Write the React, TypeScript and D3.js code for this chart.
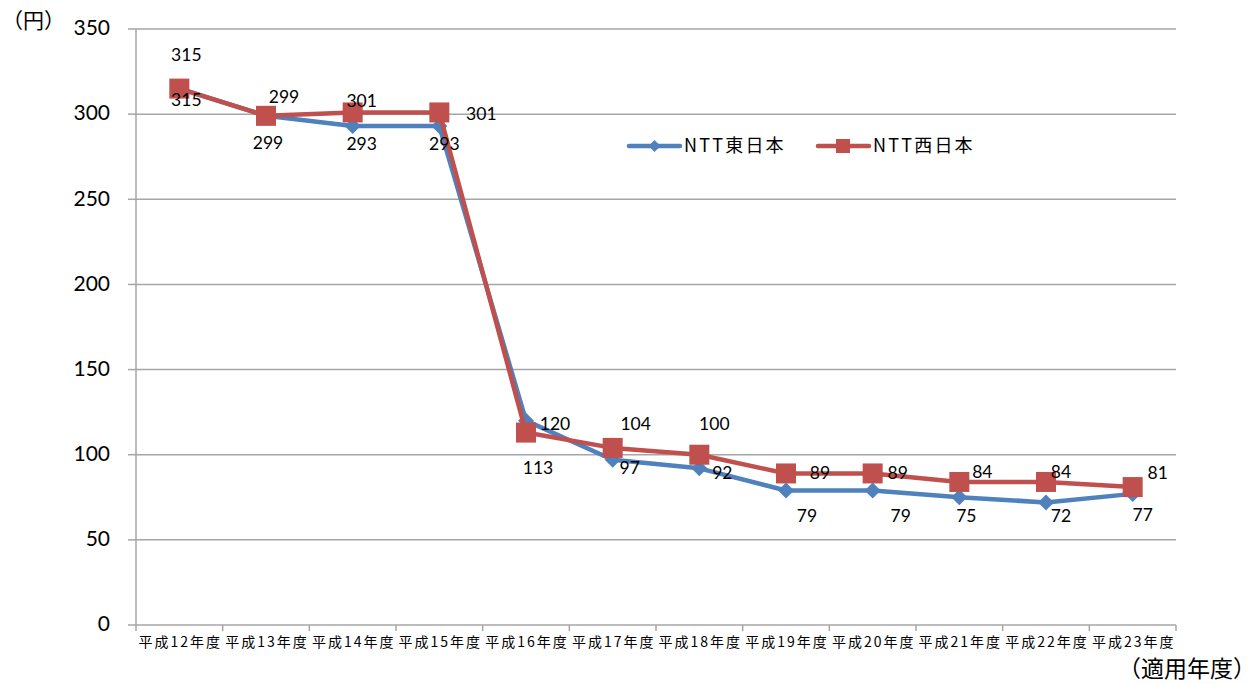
import React from 'react';
import * as d3 from 'd3';

const categories = [
  '平成12年度', '平成13年度', '平成14年度', '平成15年度', '平成16年度', '平成17年度',
  '平成18年度', '平成19年度', '平成20年度', '平成21年度', '平成22年度', '平成23年度',
];
const eastValues = [315, 299, 293, 293, 120, 97, 92, 79, 79, 75, 72, 77];
const westValues = [315, 299, 301, 301, 113, 104, 100, 89, 89, 84, 84, 81];
const yTicks = [0, 50, 100, 150, 200, 250, 300, 350];

// label offsets from each marker (Excel placed them by hand)
const eastLabelOffsets: [number, number][] = [
  [7, 11], [2, 27], [9, 17], [5, 17], [29, 3], [17, 8],
  [23, 4], [21, 25], [28, 25], [7, 18], [15, 13], [10, 21],
];
const westLabelOffsets: [number, number][] = [
  [7, -34], [18, -19], [9, -12], [42, 1], [12, 35], [23, -24],
  [15, -31], [34, -1], [25, -1], [23, -10], [15, -10], [25, -15],
];

const BLUE = '#4F81BD';
const RED = '#C0504D';
const GRID = '#A6A6A6';
const NUM_FONT = 'Lato, "Liberation Sans", sans-serif';
const JP_FONT = '"Noto Sans CJK JP", "Noto Sans", sans-serif';

const App: React.FC = () => {
  const width = 1259;
  const height = 684;
  const left = 136;
  const right = 1176;
  const top = 29;
  const bottom = 625;

  const x = d3.scaleBand<string>().domain(categories).range([left, right]).padding(0);
  const y = d3.scaleLinear().domain([0, 350]).range([bottom, top]);
  const cx = (i: number) => (x(categories[i]) as number) + x.bandwidth() / 2;

  const line = d3.line<number>()
    .x((_, i) => cx(i))
    .y(d => y(d));

  const diamond = (px: number, py: number, r: number) =>
    `M${px},${py - r}L${px + r},${py}L${px},${py + r}L${px - r},${py}Z`;

  const boundaries = d3.range(categories.length + 1).map(i => left + i * x.bandwidth());
  const labelShift = 2;

  return (
    <svg width={width} height={height} style={{ position: 'absolute', left: 0, top: 0, background: '#fff' }}>
      {/* gridlines */}
      {yTicks.map(t => (
        <line key={'g' + t} x1={left} x2={right} y1={y(t)} y2={y(t)} stroke={GRID} strokeWidth={1.5} />
      ))}
      {/* y axis */}
      <line x1={left} x2={left} y1={top} y2={bottom} stroke={GRID} strokeWidth={1.5} />
      {yTicks.map(t => (
        <g key={'yt' + t}>
          <line x1={left - 8} x2={left} y1={y(t)} y2={y(t)} stroke={GRID} strokeWidth={1.5} />
          <text x={110} y={y(t) + 1} textAnchor="end" dominantBaseline="middle"
            fontFamily={NUM_FONT} fontSize={21} fill="#000">{t}</text>
        </g>
      ))}
      {/* x axis ticks */}
      {boundaries.map((b, i) => (
        <line key={'xt' + i} x1={b} x2={b} y1={bottom} y2={bottom + 6} stroke={GRID} strokeWidth={1.5} />
      ))}
      {categories.map(c => (
        <text key={c} x={(x(c) as number) + x.bandwidth() / 2 + 1} y={643} textAnchor="middle"
          dominantBaseline="middle" fontFamily={JP_FONT} fontSize={14} letterSpacing={2} fill="#000">{c}</text>
      ))}

      <text x={2} y={22} fontFamily={JP_FONT} fontSize={21} dominantBaseline="middle" fill="#000">（円）</text>
      <text x={1256} y={671} textAnchor="end" fontFamily={JP_FONT} fontSize={23} dominantBaseline="middle" fill="#000">（適用年度）</text>

      {/* east series */}
      <path d={line(eastValues) as string} fill="none" stroke={BLUE} strokeWidth={4.5} strokeLinejoin="round" />
      {eastValues.map((v, i) => (
        <path key={'ed' + i} d={diamond(cx(i), y(v), 8)} fill={BLUE} />
      ))}
      {/* west series */}
      <path d={line(westValues) as string} fill="none" stroke={RED} strokeWidth={4.5} strokeLinejoin="round" />
      {westValues.map((v, i) => (
        <rect key={'wr' + i} x={cx(i) - 10} y={y(v) - 10} width={20} height={20} fill={RED} />
      ))}

      {/* data labels */}
      {eastValues.map((v, i) => (
        <text key={'el' + i} x={cx(i) + eastLabelOffsets[i][0]} y={y(v) + eastLabelOffsets[i][1] + labelShift}
          textAnchor="middle" dominantBaseline="middle" fontFamily={NUM_FONT} fontSize={17.5} fill="#000">{v}</text>
      ))}
      {westValues.map((v, i) => (
        <text key={'wl' + i} x={cx(i) + westLabelOffsets[i][0]} y={y(v) + westLabelOffsets[i][1] + labelShift}
          textAnchor="middle" dominantBaseline="middle" fontFamily={NUM_FONT} fontSize={17.5} fill="#000">{v}</text>
      ))}

      {/* legend */}
      <g>
        <line x1={629} x2={680} y1={146} y2={146} stroke={BLUE} strokeWidth={4.5} strokeLinecap="round" />
        <path d={diamond(654.5, 146, 6)} fill={BLUE} />
        <text x={684} y={147} dominantBaseline="middle" fontFamily={JP_FONT} fontSize={18} letterSpacing={2.2} fill="#000">NTT東日本</text>
        <line x1={818} x2={869} y1={146} y2={146} stroke={RED} strokeWidth={4.5} strokeLinecap="round" />
        <rect x={836} y={139} width={14} height={14} fill={RED} />
        <text x={873} y={147} dominantBaseline="middle" fontFamily={JP_FONT} fontSize={18} letterSpacing={2.2} fill="#000">NTT西日本</text>
      </g>
    </svg>
  );
};

export default App;
